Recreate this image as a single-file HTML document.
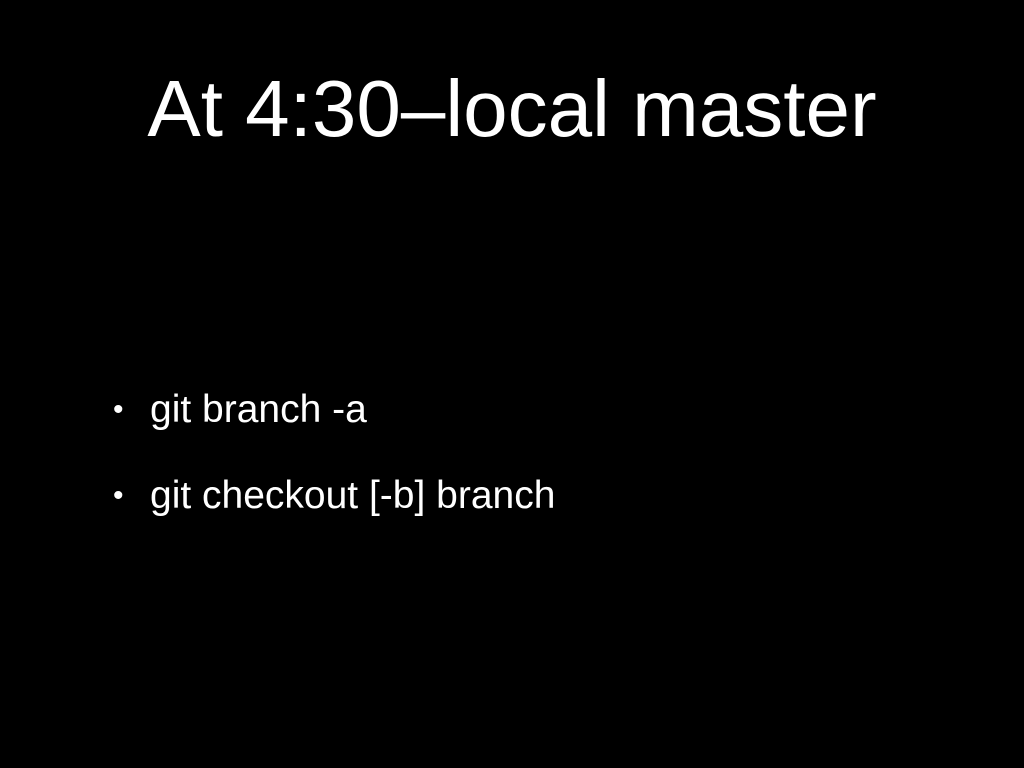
<!DOCTYPE html>
<html><head><style>
html,body{margin:0;padding:0;background:#000;width:1024px;height:768px;overflow:hidden}
body{position:relative;font-family:"Liberation Sans",sans-serif;color:#fff}
.t{position:absolute;left:0;width:1024px;text-align:center;top:67px;font-size:80px;line-height:84px;letter-spacing:0;padding-left:0}
.b{position:absolute;left:150px;font-size:39px;line-height:40px}
.d{position:absolute;left:113px;font-size:30px;line-height:40px}
</style></head><body>
<div class="t">At 4:30–local master</div>
<div class="d" style="top:390px">•</div><div class="b" style="top:390px">git branch -a</div>
<div class="d" style="top:476px">•</div><div class="b" style="top:476px">git checkout [-b] branch</div>
</body></html>
